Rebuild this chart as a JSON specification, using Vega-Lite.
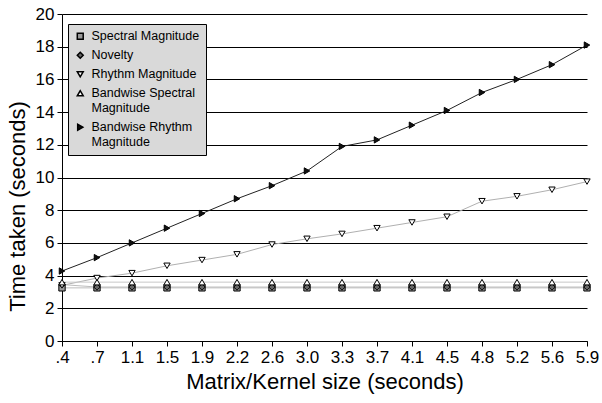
{
  "$schema": "https://vega.github.io/schema/vega-lite/v6.json",
  "width": 525,
  "height": 327,
  "autosize": "none",
  "padding": {"left": 62, "top": 14, "right": 15, "bottom": 62},
  "background": "white",
  "config": {
    "font": "Liberation Sans",
    "view": {"stroke": null},
    "axis": {"domainColor": "black", "tickColor": "black", "labelColor": "black", "titleColor": "black", "titleFontWeight": "normal", "labelFont": "Liberation Sans", "titleFont": "Liberation Sans"},
    "legend": {"labelFont": "Liberation Sans"}
  },
  "datasets": {
    "d": [
      {"x": ".4", "s": "Spectral Magnitude", "v": 3.25}, {"x": ".7", "s": "Spectral Magnitude", "v": 3.25}, {"x": "1.1", "s": "Spectral Magnitude", "v": 3.25}, {"x": "1.5", "s": "Spectral Magnitude", "v": 3.25}, {"x": "1.9", "s": "Spectral Magnitude", "v": 3.25}, {"x": "2.2", "s": "Spectral Magnitude", "v": 3.25}, {"x": "2.6", "s": "Spectral Magnitude", "v": 3.25}, {"x": "3.0", "s": "Spectral Magnitude", "v": 3.25}, {"x": "3.3", "s": "Spectral Magnitude", "v": 3.25}, {"x": "3.7", "s": "Spectral Magnitude", "v": 3.25}, {"x": "4.1", "s": "Spectral Magnitude", "v": 3.25}, {"x": "4.5", "s": "Spectral Magnitude", "v": 3.25}, {"x": "4.8", "s": "Spectral Magnitude", "v": 3.25}, {"x": "5.2", "s": "Spectral Magnitude", "v": 3.25}, {"x": "5.6", "s": "Spectral Magnitude", "v": 3.25}, {"x": "5.9", "s": "Spectral Magnitude", "v": 3.25},
      {"x": ".4", "s": "Novelty", "v": 3.45}, {"x": ".7", "s": "Novelty", "v": 3.3}, {"x": "1.1", "s": "Novelty", "v": 3.3}, {"x": "1.5", "s": "Novelty", "v": 3.3}, {"x": "1.9", "s": "Novelty", "v": 3.3}, {"x": "2.2", "s": "Novelty", "v": 3.3}, {"x": "2.6", "s": "Novelty", "v": 3.3}, {"x": "3.0", "s": "Novelty", "v": 3.3}, {"x": "3.3", "s": "Novelty", "v": 3.3}, {"x": "3.7", "s": "Novelty", "v": 3.3}, {"x": "4.1", "s": "Novelty", "v": 3.3}, {"x": "4.5", "s": "Novelty", "v": 3.3}, {"x": "4.8", "s": "Novelty", "v": 3.3}, {"x": "5.2", "s": "Novelty", "v": 3.3}, {"x": "5.6", "s": "Novelty", "v": 3.3}, {"x": "5.9", "s": "Novelty", "v": 3.3},
      {"x": ".4", "s": "Rhythm Magnitude", "v": 3.4}, {"x": ".7", "s": "Rhythm Magnitude", "v": 3.85}, {"x": "1.1", "s": "Rhythm Magnitude", "v": 4.15}, {"x": "1.5", "s": "Rhythm Magnitude", "v": 4.6}, {"x": "1.9", "s": "Rhythm Magnitude", "v": 4.95}, {"x": "2.2", "s": "Rhythm Magnitude", "v": 5.3}, {"x": "2.6", "s": "Rhythm Magnitude", "v": 5.9}, {"x": "3.0", "s": "Rhythm Magnitude", "v": 6.25}, {"x": "3.3", "s": "Rhythm Magnitude", "v": 6.55}, {"x": "3.7", "s": "Rhythm Magnitude", "v": 6.9}, {"x": "4.1", "s": "Rhythm Magnitude", "v": 7.25}, {"x": "4.5", "s": "Rhythm Magnitude", "v": 7.6}, {"x": "4.8", "s": "Rhythm Magnitude", "v": 8.55}, {"x": "5.2", "s": "Rhythm Magnitude", "v": 8.85}, {"x": "5.6", "s": "Rhythm Magnitude", "v": 9.25}, {"x": "5.9", "s": "Rhythm Magnitude", "v": 9.75},
      {"x": ".4", "s": "Bandwise Spectral Magnitude", "v": 3.6}, {"x": ".7", "s": "Bandwise Spectral Magnitude", "v": 3.6}, {"x": "1.1", "s": "Bandwise Spectral Magnitude", "v": 3.6}, {"x": "1.5", "s": "Bandwise Spectral Magnitude", "v": 3.6}, {"x": "1.9", "s": "Bandwise Spectral Magnitude", "v": 3.6}, {"x": "2.2", "s": "Bandwise Spectral Magnitude", "v": 3.6}, {"x": "2.6", "s": "Bandwise Spectral Magnitude", "v": 3.6}, {"x": "3.0", "s": "Bandwise Spectral Magnitude", "v": 3.6}, {"x": "3.3", "s": "Bandwise Spectral Magnitude", "v": 3.6}, {"x": "3.7", "s": "Bandwise Spectral Magnitude", "v": 3.6}, {"x": "4.1", "s": "Bandwise Spectral Magnitude", "v": 3.6}, {"x": "4.5", "s": "Bandwise Spectral Magnitude", "v": 3.6}, {"x": "4.8", "s": "Bandwise Spectral Magnitude", "v": 3.6}, {"x": "5.2", "s": "Bandwise Spectral Magnitude", "v": 3.6}, {"x": "5.6", "s": "Bandwise Spectral Magnitude", "v": 3.6}, {"x": "5.9", "s": "Bandwise Spectral Magnitude", "v": 3.6},
      {"x": ".4", "s": "Bandwise Rhythm Magnitude", "v": 4.28}, {"x": ".7", "s": "Bandwise Rhythm Magnitude", "v": 5.1}, {"x": "1.1", "s": "Bandwise Rhythm Magnitude", "v": 6.0}, {"x": "1.5", "s": "Bandwise Rhythm Magnitude", "v": 6.9}, {"x": "1.9", "s": "Bandwise Rhythm Magnitude", "v": 7.8}, {"x": "2.2", "s": "Bandwise Rhythm Magnitude", "v": 8.7}, {"x": "2.6", "s": "Bandwise Rhythm Magnitude", "v": 9.5}, {"x": "3.0", "s": "Bandwise Rhythm Magnitude", "v": 10.4}, {"x": "3.3", "s": "Bandwise Rhythm Magnitude", "v": 11.9}, {"x": "3.7", "s": "Bandwise Rhythm Magnitude", "v": 12.3}, {"x": "4.1", "s": "Bandwise Rhythm Magnitude", "v": 13.2}, {"x": "4.5", "s": "Bandwise Rhythm Magnitude", "v": 14.1}, {"x": "4.8", "s": "Bandwise Rhythm Magnitude", "v": 15.2}, {"x": "5.2", "s": "Bandwise Rhythm Magnitude", "v": 16.0}, {"x": "5.6", "s": "Bandwise Rhythm Magnitude", "v": 16.9}, {"x": "5.9", "s": "Bandwise Rhythm Magnitude", "v": 18.1}
    ]
  },
  "data": {"name": "d"},
  "encoding": {
    "x": {
      "field": "x", "type": "ordinal", "sort": null,
      "scale": {"type": "point", "padding": 0},
      "axis": {"title": "Matrix/Kernel size (seconds)", "labelAngle": 0, "labelFontSize": 17, "titleFontSize": 22, "tickSize": 5, "labelPadding": 3, "titlePadding": 6, "grid": false, "labelOverlap": false}
    },
    "y": {
      "field": "v", "type": "quantitative",
      "scale": {"domain": [0, 20], "nice": false},
      "axis": {"title": "Time taken (seconds)", "values": [0, 2, 4, 6, 8, 10, 12, 14, 16, 18, 20], "labelFontSize": 17, "titleFontSize": 22, "tickSize": 5, "labelPadding": 3, "titlePadding": 6, "titleY": 192, "grid": true, "gridColor": "black", "gridOpacity": 1, "gridWidth": 1}
    }
  },
  "layer": [
    {
      "mark": {"type": "line", "strokeWidth": 1},
      "encoding": {
        "color": {
          "field": "s", "type": "nominal", "legend": null,
          "scale": {"domain": ["Spectral Magnitude", "Novelty", "Rhythm Magnitude", "Bandwise Spectral Magnitude", "Bandwise Rhythm Magnitude"], "range": ["#bdbdbd", "#bdbdbd", "#b0b0b0", "#c8c8c8", "#222222"]}
        }
      }
    },
    {
      "mark": {"type": "point", "filled": true, "stroke": "black", "strokeWidth": 1, "size": 40, "opacity": 1},
      "encoding": {
        "shape": {
          "field": "s", "type": "nominal", "title": null,
          "scale": {"domain": ["Spectral Magnitude", "Novelty", "Rhythm Magnitude", "Bandwise Spectral Magnitude", "Bandwise Rhythm Magnitude"], "range": ["square", "diamond", "triangle-down", "triangle-up", "triangle-right"]},
          "legend": {"orient": "none", "legendX": 6, "legendY": 10, "fillColor": "#d9d9d9", "strokeColor": "black", "padding": 6, "labelFontSize": 12.5, "labelColor": "black", "symbolSize": 35, "rowPadding": 6, "labelLimit": 200, "labelOffset": 5,
            "labelExpr": "datum.label == 'Bandwise Spectral Magnitude' ? ['Bandwise Spectral', 'Magnitude'] : datum.label == 'Bandwise Rhythm Magnitude' ? ['Bandwise Rhythm', 'Magnitude'] : datum.label",
            "encode": {"symbols": {"update": {"stroke": {"value": "black"}, "strokeWidth": {"value": 1}, "opacity": {"value": 1}}}}}
        },
        "fill": {
          "field": "s", "type": "nominal", "title": null,
          "scale": {"domain": ["Spectral Magnitude", "Novelty", "Rhythm Magnitude", "Bandwise Spectral Magnitude", "Bandwise Rhythm Magnitude"], "range": ["#999999", "#666666", "#ffffff", "#ffffff", "#111111"]},
          "legend": {"orient": "none", "legendX": 6, "legendY": 10, "fillColor": "#d9d9d9", "strokeColor": "black", "padding": 6, "labelFontSize": 12.5, "labelColor": "black", "symbolSize": 35, "rowPadding": 6, "labelLimit": 200, "labelOffset": 5,
            "labelExpr": "datum.label == 'Bandwise Spectral Magnitude' ? ['Bandwise Spectral', 'Magnitude'] : datum.label == 'Bandwise Rhythm Magnitude' ? ['Bandwise Rhythm', 'Magnitude'] : datum.label",
            "encode": {"symbols": {"update": {"stroke": {"value": "black"}, "strokeWidth": {"value": 1}, "opacity": {"value": 1}}}}}
        }
      }
    }
  ],
  "resolve": {"scale": {"color": "independent"}}
}
